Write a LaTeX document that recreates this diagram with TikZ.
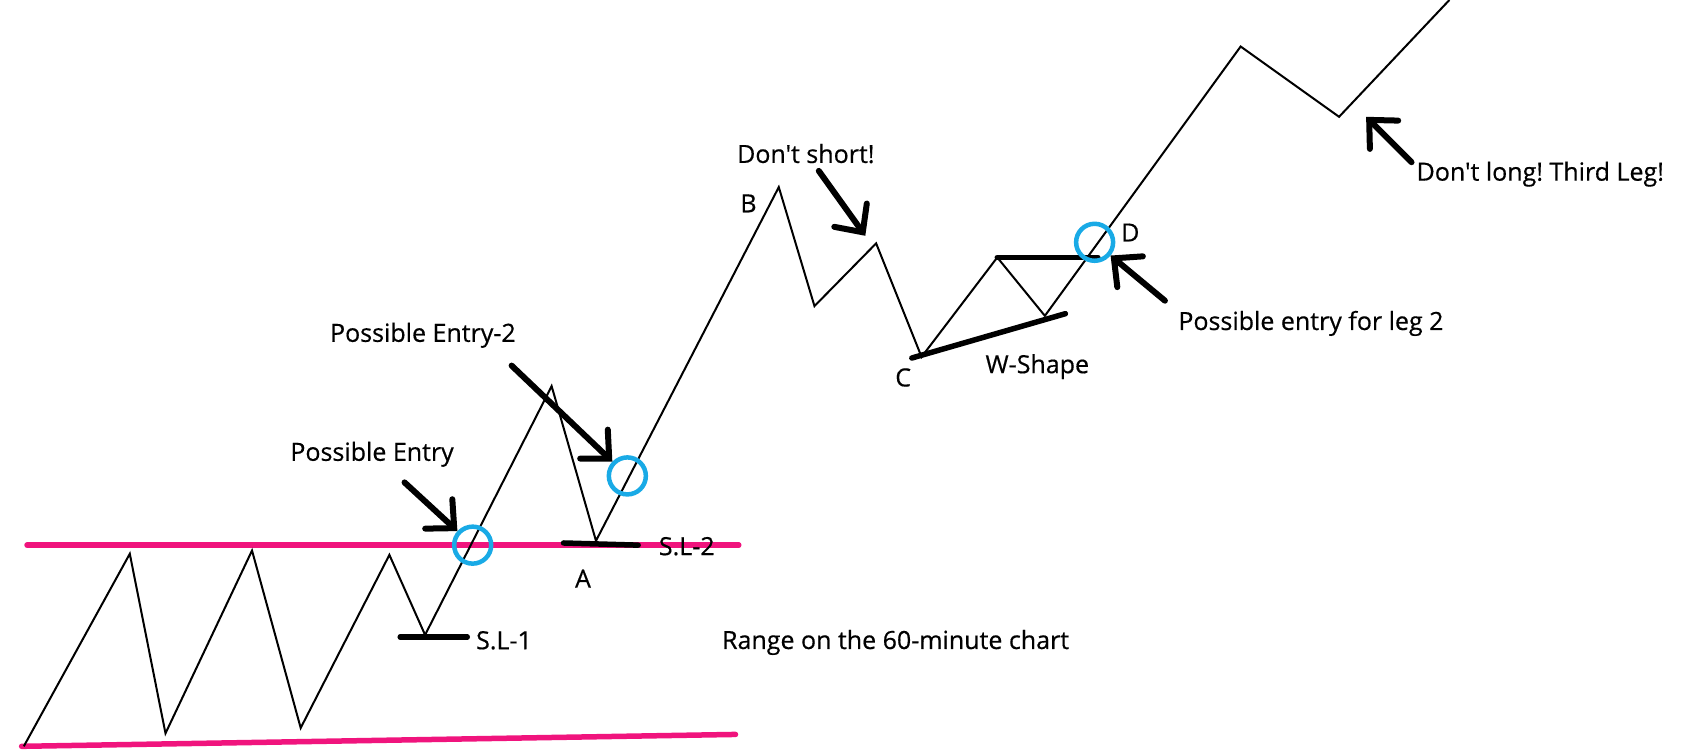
\documentclass[tikz,border=0pt]{standalone}
\usepackage{fontspec}
\newfontfamily\lblfont{Open Sans}[Ligatures=TeXOff, FakeBold=0.5]
\usetikzlibrary{arrows.meta}
\definecolor{rangepink}{RGB}{240,20,125}
\definecolor{entrycyan}{RGB}{25,170,230}
\frenchspacing
\begin{document}
\begin{tikzpicture}[x=1.0816pt,y=-1.0816pt,
  price/.style={line width=2pt, line join=miter},
  rangeline/.style={rangepink, line width=5.5pt, line cap=round},
  bar/.style={line width=5.5pt, line cap=round},
  callout/.style={line width=6pt, line cap=round, line join=round,
    -{Straight Barb[length=21pt,width=40pt,line cap=round]}},
  entry/.style={circle, draw=entrycyan, line width=4.5pt, minimum size=37pt, inner sep=0pt},
  lbl/.style={font=\lblfont\fontsize{25}{30}\selectfont, inner sep=0pt}]
\useasboundingbox[fill=white] (0,0) rectangle (1568,696);
% range lines
\coordinate (r1a) at (25,504); \coordinate (r1b) at (683,504);
\coordinate (r2a) at (20,690); \coordinate (r2b) at (680,679);
\draw[rangeline] (r1a) -- (r1b);
\draw[rangeline] (r2a) -- (r2b);
% price path
\coordinate (p0) at (22,690);
\coordinate (p1) at (120,512);
\coordinate (p2) at (153,678);
\coordinate (p3) at (233,509);
\coordinate (p4) at (278,673);
\coordinate (p5) at (360,513);
\coordinate (p6) at (393,587);
\coordinate (p7) at (510,357);
\coordinate (p8) at (551,500);
\coordinate (p9) at (720,173);
\coordinate (p10) at (753,283);
\coordinate (p11) at (810,225);
\coordinate (p12) at (852,330);
\coordinate (p13) at (922,238);
\coordinate (p14) at (966,292);
\coordinate (p15) at (1147,43);
\coordinate (p16) at (1238,108);
\coordinate (p17) at (1340,0);
\draw[price] (p0) -- (p1) -- (p2) -- (p3) -- (p4) -- (p5) -- (p6) -- (p7) -- (p8)
  -- (p9) -- (p10) -- (p11) -- (p12) -- (p13) -- (p14) -- (p15) -- (p16) -- (p17);
% thick bars
\coordinate (s1a) at (370,589); \coordinate (s1b) at (432,589);
\coordinate (s2a) at (521,502); \coordinate (s2b) at (590,504);
\coordinate (wta) at (922,238); \coordinate (wtb) at (1015,238);
\coordinate (wba) at (843,331); \coordinate (wbb) at (985,290);
\draw[bar] (s1a) -- (s1b);
\draw[bar] (s2a) -- (s2b);
\draw[bar] (wta) -- (wtb);
\draw[bar] (wba) -- (wbb);
% entry circles
\node[entry] (e1) at (437,504) {};
\node[entry] (e2) at (580,440) {};
\node[entry] (e3) at (1012,224) {};
% labels
\node[lbl] (tpe) at (344,420) {Possible Entry};
\node[lbl] (tpe2) at (391,310) {Possible Entry-2};
\node[lbl] (tds) at (745,142) {Don't short!};
\node[lbl] (tb) at (692,188) {B};
\node[lbl] (ta) at (539,535) {A};
\node[lbl] (tc) at (835,349) {C};
\node[lbl] (td) at (1045,215) {D};
\node[lbl, anchor=west] (tsl1) at (440,592) {S.L-1};
\node[lbl, anchor=west] (tsl2) at (609,505) {S.L-2};
\node[lbl] (tw) at (959,339) {W-Shape};
\node[lbl] (tleg) at (1212,299) {Possible entry for leg 2};
\node[lbl] (tdl) at (1424,161) {Don't long! Third Leg!};
\node[lbl] (trange) at (828,594) {Range on the 60-minute chart};
% callout arrows
\coordinate (a1) at (374,446);
\coordinate (a2) at (473,338);
\coordinate (a3) at (757,158);
\coordinate (a3t) at (800,218);
\coordinate (a4) at (1077,278);
\coordinate (a5) at (1305,150);
\coordinate (a5t) at (1263,108);
\draw[callout] (a1) -- (e1);
\draw[callout] (a2) -- (e2);
\draw[callout] (a3) -- (a3t);
\draw[callout] (a4) -- (e3);
\draw[callout] (a5) -- (a5t);
\end{tikzpicture}
\end{document}
